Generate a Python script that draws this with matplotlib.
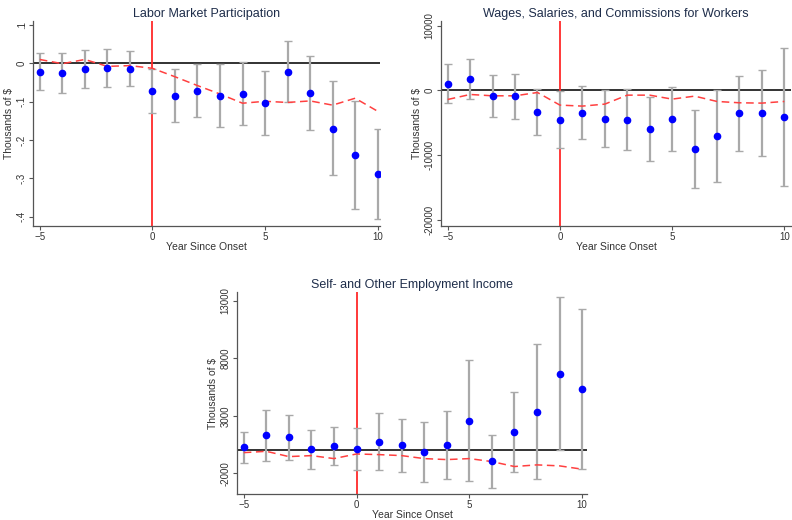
import numpy as np
import matplotlib
matplotlib.use("Agg")
import matplotlib.pyplot as plt

plt.rcParams['font.family'] = ['Liberation Sans', 'DejaVu Sans']

years = [-5, -4, -3, -2, -1, 0, 1, 2, 3, 4, 5, 6, 7, 8, 9, 10]

# Labor market participation
lmp_est = [-0.022, -0.025, -0.016, -0.012, -0.014, -0.072, -0.084, -0.073, -0.085, -0.080,
           -0.103, -0.022, -0.078, -0.170, -0.240, -0.289]
lmp_hi = [0.026, 0.027, 0.035, 0.037, 0.031, -0.014, -0.014, -0.003, -0.003, 0.003,
          -0.019, 0.058, 0.019, -0.045, -0.097, -0.170]
lmp_lo = [-0.069, -0.078, -0.065, -0.061, -0.060, -0.130, -0.152, -0.141, -0.166, -0.161,
          -0.186, -0.101, -0.174, -0.291, -0.381, -0.407]
lmp_ref = [0.010, -0.001, 0.010, -0.008, -0.006, -0.013, -0.035, -0.058, -0.080, -0.104,
           -0.099, -0.102, -0.098, -0.109, -0.091, -0.125]

# Wages, salaries and commissions
wage_est = [1026, 1795, -872, -872, -3333, -4513, -3436, -4359, -4564, -5949,
            -4359, -9077, -7077, -3538, -3538, -4103]
wage_hi = [4051, 4820, 2359, 2564, 154, -103, 615, 103, 154, -1026,
           513, -3077, 0, 2256, 3128, 6513]
wage_lo = [-2000, -1282, -4051, -4359, -6821, -8923, -7436, -8667, -9231, -10821,
           -9282, -15026, -14051, -9333, -10103, -14718]
wage_ref = [-1385, -615, -821, -821, -308, -2256, -2410, -2103, -718, -718,
            -1333, -872, -1692, -1897, -1949, -1692]

# Self- and other employment income
self_est = [267, 1328, 1127, 95, 382, 123, 755, 439, -135, 496,
            2562, -938, 1615, 3337, 6665, 5345]
self_hi = [1615, 3509, 3079, 1759, 2017, 1931, 3222, 2734, 2505, 3394,
           7841, 1357, 5087, 9247, 13350, 12287]
self_lo = [-1053, -881, -795, -1569, -1254, -1655, -1741, -1885, -2746, -2459,
           -2631, -3291, -1856, -2516, 37, -1569]
self_ref = [-192, -77, -536, -450, -709, -307, -364, -450, -709, -795,
            -709, -967, -1397, -1254, -1340, -1627]

lmp_ticks = [0.1, 0, -0.1, -0.2, -0.3, -0.4]
lmp_labels = ['.1', '0', '-.1', '-.2', '-.3', '-.4']
wage_ticks = [10000, 0, -10000, -20000]
self_ticks = [13000, 8000, 3000, -2000]
x_ticks = [-5, 0, 5, 10]

title_color = '#1e2d4a'
txt_color = '#333333'


def panel(ax, title, est, lo, hi, ref, yticks, ylabels, ylim, xlim):
    x = np.array(years)
    est = np.array(est)
    lo = np.array(lo)
    hi = np.array(hi)
    ax.axhline(0, color='#222222', lw=1.3, zorder=1)
    ax.axvline(0, color='#ff2a2a', lw=1.3, zorder=2)
    ax.errorbar(x, est, yerr=[est - lo, hi - est], fmt='none', ecolor='#a9a9a9',
                elinewidth=1.6, capsize=3, capthick=1.0, zorder=3)
    ax.plot(x, ref, color='#ff4040', lw=1.1, ls=(0, (5, 3)), zorder=4)
    ax.plot(x, est, 'o', color='#0000ff', ms=4.5, zorder=5)
    ax.set_xlim(*xlim)
    ax.set_ylim(*ylim)
    ax.set_xticks(x_ticks)
    ax.set_yticks(yticks)
    ax.set_yticklabels(ylabels, rotation=90, va='center')
    for s in ['top', 'right']:
        ax.spines[s].set_visible(False)
    for s in ['left', 'bottom']:
        ax.spines[s].set_color('#555555')
        ax.spines[s].set_linewidth(0.9)
    ax.tick_params(axis='both', labelsize=7, colors='#555555', labelcolor=txt_color,
                   length=3, width=0.8, pad=1.5)
    ax.set_xlabel('Year Since Onset', fontsize=7.5, color=txt_color, labelpad=0)
    ax.set_ylabel('Thousands of $', fontsize=7.5, color=txt_color, labelpad=2)
    ax.set_title(title, fontsize=9, color=title_color, pad=3)


fig = plt.figure(figsize=(7.92, 5.2), dpi=100)
ax1 = fig.add_axes([0.0417, 0.5654, 0.438, 0.394])
ax2 = fig.add_axes([0.5568, 0.5654, 0.442, 0.394])
ax3 = fig.add_axes([0.2992, 0.0500, 0.442, 0.388])

panel(ax1, 'Labor Market Participation', lmp_est, lmp_lo, lmp_hi, lmp_ref,
      lmp_ticks, lmp_labels, (-0.424, 0.11), (-5.3, 10.1))
panel(ax2, 'Wages, Salaries, and Commissions for Workers', wage_est, wage_lo, wage_hi,
      wage_ref, wage_ticks, [str(t) for t in wage_ticks], (-20900, 10700), (-5.3, 10.3))
panel(ax3, 'Self- and Other Employment Income', self_est, self_lo, self_hi, self_ref,
      self_ticks, [str(t) for t in self_ticks], (-3780, 13720), (-5.3, 10.22))

fig.savefig('out.png', dpi=100)
